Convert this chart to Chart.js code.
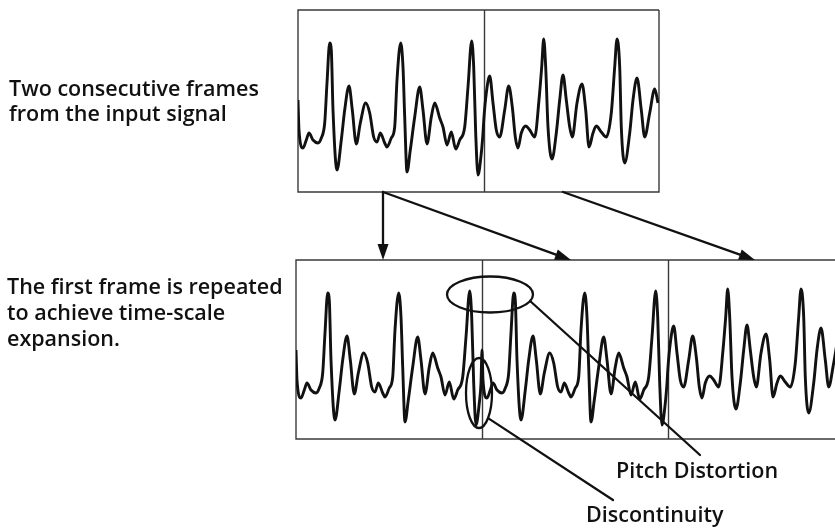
<!DOCTYPE html>
<html>
<head>
<meta charset="utf-8">
<script src="https://cdn.jsdelivr.net/npm/chart.js@4.4.1/dist/chart.umd.min.js"></script>
<style>
  html, body { margin: 0; padding: 0; background: #fff; }
  #page { position: relative; width: 835px; height: 528px; overflow: hidden; background: #fff; }
  #page canvas { position: absolute; left: 0; top: 0; }
  .note {
    position: absolute;
    font-family: "Open Sans", sans-serif;
    font-size: 21.5px;
    font-weight: 600;
    line-height: 25px;
    color: #111;
    white-space: nowrap;
  }
</style>
</head>
<body>
<div id="page">
  <canvas id="inputChart" width="835" height="528"></canvas>
  <canvas id="expandedChart" width="835" height="528"></canvas>
  <div class="note" style="left:9px; top:75px;">Two consecutive frames<br>from the input signal</div>
  <div class="note" style="left:7px; top:273px; line-height:26px;">The first frame is repeated<br>to achieve time-scale<br>expansion.</div>
  <div class="note" style="left:616px; top:457px;">Pitch Distortion</div>
  <div class="note" style="left:586px; top:501px;">Discontinuity</div>
</div>
<script>
// samples per frame (x units)
const FRAME_LEN = 186;

// first frame of the input signal
const frame1Time = [0, 1, 5, 8.3, 11, 15, 20, 23.3, 26.7, 29,
    31.7, 33.3, 35, 39, 43.3, 46.7, 51, 54.3, 58.3, 62.3,
    67.7, 71.7, 75.7, 79, 82.3, 86.7, 89, 93.3, 96.7, 99,
    102.7, 105, 106.7, 109, 112.3, 116.7, 121.7, 125, 129, 133.3,
    136.7, 141.7, 145, 149, 153.3, 157.7, 161.7, 166.7, 170, 173.7,
    175.7, 177.7, 180, 183.3, 185];
const frame1Amp = [40, 10, -8, 0, 7, 0, -3, 2, 17, 57,
    97, 90, 30, -30, 0, 30, 54, 30, -4, 17,
    37, 27, 3, -2, 7, -3, -7, 2, 13, 60,
    97, 73, 23, -32, -10, 23, 53, 30, -4, 23,
    37, 22, 13, -5, 8, -9, 0, 13, 53, 99,
    73, 7, -35, -13, 7];

// second frame of the input signal
const frame2Time = [0, 2.3, 5.7, 9, 12.3, 15.7, 20.7, 24.7, 28.3, 31.3,
    34, 37.3, 41.7, 45.7, 50.7, 55, 57.7, 59.7, 61.7, 64,
    68, 72.3, 75.7, 79, 82.3, 85.7, 88.3, 93, 98, 101.7,
    105, 109, 112.3, 117.3, 122.3, 127.3, 130.7, 133, 135.7, 137.3,
    140.7, 145.7, 149, 153, 157.3, 160.7, 165.7, 170.7, 174];
const frame2Amp = [23, 47, 64, 37, 10, 3, 30, 54, 33, 3,
    -8, 7, 14, 10, 3, 40, 73, 101, 73, 13,
    -19, 7, 40, 65, 40, 13, 3, 37, 56, 30,
    -7, 7, 14, 8, 3, 27, 73, 101, 73, 13,
    -23, 7, 40, 62, 30, 3, 27, 51, 37];

const frames = [
    { time: frame1Time, amp: frame1Amp },
    { time: frame2Time, amp: frame2Amp },
];

// which frame goes in each slot
const inputOrder = [0, 1];
const expandedOrder = [0, 0, 1];

function buildPoints(order) {
    const points = [];
    order.forEach(function (frameIndex, slot) {
        const f = frames[frameIndex];
        f.time.forEach(function (t, k) {
            points.push({ x: slot * FRAME_LEN + t, y: f.amp[k] });
        });
    });
    return points;
}

// box and frame dividers drawn from the x scale
const frameBoxPlugin = {
    id: "frameBox",
    beforeDatasetsDraw: function (chart, args, opts) {
        const ctx = chart.ctx;
        const a = chart.chartArea;
        const x = chart.scales.x;
        ctx.save();
        ctx.strokeStyle = "#3a3a3a";
        ctx.lineWidth = 1.4;
        ctx.beginPath();
        ctx.moveTo(a.right + (opts.openRight ? 2 : 0), a.top);
        ctx.lineTo(a.left, a.top);
        ctx.lineTo(a.left, a.bottom);
        ctx.lineTo(a.right + (opts.openRight ? 2 : 0), a.bottom);
        if (!opts.openRight) {
            ctx.lineTo(a.right, a.top);
        }
        for (let i = 1; i < opts.slots; i++) {
            const px = Math.round(x.getPixelForValue(i * FRAME_LEN)) + 0.5;
            ctx.moveTo(px, a.top);
            ctx.lineTo(px, a.bottom);
        }
        ctx.stroke();
        ctx.restore();
    },
};

function makeChart(id, order, xMax, yMin, yMax, padding, openRight, extraPlugins) {
    const ctx = document.getElementById(id).getContext("2d");
    return new Chart(ctx, {
        type: "line",
        data: {
            datasets: [
                {
                    data: buildPoints(order),
                    borderColor: "#111",
                    borderWidth: 2.9,
                    pointRadius: 0,
                    cubicInterpolationMode: "monotone",
                    fill: false,
                },
            ],
        },
        options: {
            responsive: false,
            animation: false,
            layout: { padding: padding },
            plugins: {
                legend: { display: false },
                tooltip: { enabled: false },
                frameBox: { slots: order.length, openRight: openRight },
            },
            scales: {
                x: { type: "linear", min: 0, max: xMax, display: false },
                y: { min: yMin, max: yMax, display: false },
            },
        },
        plugins: [frameBoxPlugin].concat(extraPlugins || []),
    });
}

const inputChart = makeChart("inputChart", inputOrder, 361, -52, 130,
    { left: 298, top: 10, right: 176, bottom: 336 }, false);

// arrows, ellipses and leader lines
const calloutPlugin = {
    id: "callouts",
    afterDraw: function (chart) {
        const ctx = chart.ctx;
        const tx = inputChart.scales.x;
        const tBottom = inputChart.chartArea.bottom;
        const bx = chart.scales.x;
        const by = chart.scales.y;
        const bTop = chart.chartArea.top;

        const arrows = [
            { from: 85, to: 87 },
            { from: 85, to: 275 },
            { from: 265, to: 459 },
        ];
        const ellipses = [
            { x: 194, y: 95.5, rx: 43, ry: 18, angle: 0.37, endX: 700, endY: 455 },
            { x: 183, y: -3, rx: 13, ry: 35, angle: 0.8, endX: 613, endY: 500 },
        ];

        ctx.save();
        ctx.strokeStyle = "#111";
        ctx.fillStyle = "#111";
        ctx.lineWidth = 2.3;
        ctx.lineCap = "round";

        arrows.forEach(function (ar) {
            const x1 = tx.getPixelForValue(ar.from), y1 = tBottom;
            const x2 = bx.getPixelForValue(ar.to), y2 = bTop;
            const ang = Math.atan2(y2 - y1, x2 - x1);
            const head = 16, half = 5.5;
            const hx = x2 - head * Math.cos(ang), hy = y2 - head * Math.sin(ang);
            ctx.beginPath();
            ctx.moveTo(x1, y1);
            ctx.lineTo(hx, hy);
            ctx.stroke();
            ctx.beginPath();
            ctx.moveTo(x2, y2);
            ctx.lineTo(hx + half * Math.sin(ang), hy - half * Math.cos(ang));
            ctx.lineTo(hx - half * Math.sin(ang), hy + half * Math.cos(ang));
            ctx.closePath();
            ctx.fill();
        });

        ellipses.forEach(function (e) {
            const cx = bx.getPixelForValue(e.x), cy = by.getPixelForValue(e.y);
            ctx.beginPath();
            ctx.ellipse(cx, cy, e.rx, e.ry, 0, 0, Math.PI * 2);
            ctx.stroke();
            ctx.beginPath();
            ctx.moveTo(cx + e.rx * Math.cos(e.angle), cy + e.ry * Math.sin(e.angle));
            ctx.lineTo(e.endX, e.endY);
            ctx.stroke();
        });
        ctx.restore();
    },
};

const expandedChart = makeChart("expandedChart", expandedOrder, 539, -49, 130,
    { left: 296, top: 260, right: 0, bottom: 89 }, true, [calloutPlugin]);
</script>
</body>
</html>
